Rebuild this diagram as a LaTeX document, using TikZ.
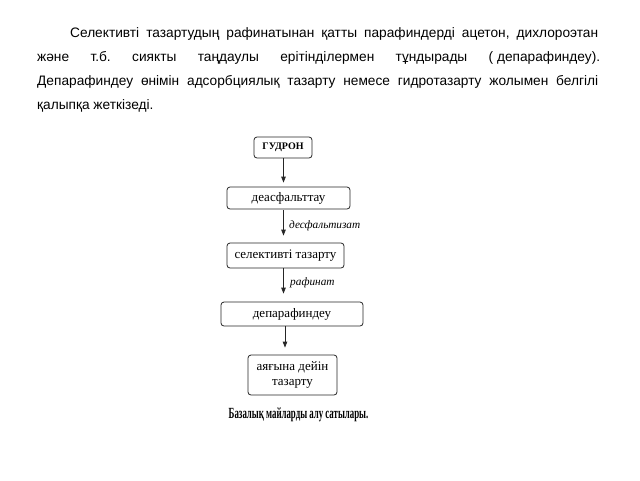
\documentclass[tikz,border=0pt]{standalone}
\usepackage{fontspec}
\setmainfont{Liberation Serif}
\newfontfamily\parafont{Liberation Sans}
\usetikzlibrary{arrows.meta}
\frenchspacing
\tikzset{
  paraline/.style={anchor=base west, inner sep=0pt,
    font=\parafont\fontsize{13.7}{16}\selectfont},
  flowbox/.style={draw=black!85, line width=0.8pt, rounded corners=3pt, inner sep=0pt,
    font=\fontsize{13}{14.5}\selectfont, align=center},
  flowarrow/.style={draw=black!85, line width=0.8pt, -{Triangle[length=6pt,width=4.5pt]}},
  flowlabel/.style={anchor=west, inner sep=0pt, font=\itshape\fontsize{11.3}{12}\selectfont}
}
\begin{document}
\begin{tikzpicture}[x=1pt,y=-1pt]
\useasboundingbox[fill=white] (0,0) rectangle (640,480);
% paragraph
\node[paraline] (l1) at (37,37) {\makebox[561pt][s]{\hspace*{33pt}Селективті тазартудың рафинатынан қатты парафиндерді ацетон, дихлороэтан}};
\node[paraline] (l2) at (37,61) {\makebox[563pt][s]{және т.б. сиякты таңдаулы ерітінділермен тұндырады (\hspace{3.8pt}депарафиндеу).}};
\node[paraline] (l3) at (37,85) {\makebox[561pt][s]{Депарафиндеу өнімін адсорбциялық тазарту немесе гидротазарту жолымен белгілі}};
\node[paraline] (l4) at (37,109) {қалыпқа жеткізеді.};
% flow
\node[flowbox, minimum width=58pt, minimum height=21pt, font=\bfseries\fontsize{10}{11}\selectfont] (gud) at (283,147.5) {ГУДРОН};
\node[flowbox, minimum width=123pt, minimum height=22pt] (deasf) at (288.5,198) {деасфальттау};
\node[flowbox, minimum width=117pt, minimum height=25pt] (sel) at (285.5,255.5) {селективті тазарту};
\node[flowbox, minimum width=142pt, minimum height=24pt] (dep) at (292,314) {депарафиндеу};
\node[flowbox, minimum width=89pt, minimum height=40pt] (fin) at (292.5,375) {аяғына дейін\\тазарту};
\coordinate (ax) at (283.5,0);
\draw[flowarrow, shorten >=4pt] (gud.south -| ax) -- (deasf.north -| ax);
\draw[flowarrow, shorten <=1pt, shorten >=7pt] (deasf.south -| ax) -- (sel.north -| ax);
\draw[flowarrow, shorten >=8pt] (sel.south -| ax) -- (dep.north -| ax);
\draw[flowarrow, shorten >=7pt] ([xshift=1.5pt]dep.south -| ax) -- ([xshift=1.5pt]fin.north -| ax);
\node[flowlabel] (lab1) at (289,226) {десфальтизат};
\node[flowlabel] (lab2) at (290,283) {рафинат};
\node[inner sep=0pt] (cap) at (298.5,415) {\scalebox{0.57}[1]{\bfseries\fontsize{15.5}{17}\selectfont Базалық майларды алу сатылары.}};
\end{tikzpicture}
\end{document}
